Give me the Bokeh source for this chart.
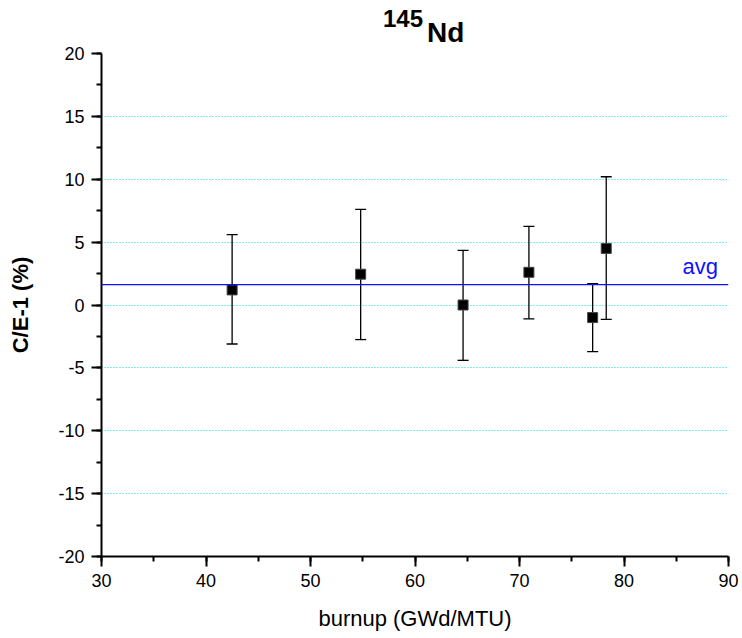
from bokeh.plotting import figure
from bokeh.models import (ColumnDataSource, Whisker, TeeHead, Span, Label,
                          SingleIntervalTicker, FixedTicker, Range1d, Div)
from bokeh.layouts import column
from bokeh.embed import file_html
from bokeh.resources import INLINE

# ---- data ----
burnup = [42.5, 54.8, 64.6, 70.9, 77.0, 78.3]
ce_minus_1 = [1.2, 2.45, 0.0, 2.6, -1.0, 4.5]
err_upper = [5.6, 7.6, 4.35, 6.25, 1.7, 10.2]
err_lower = [-3.1, -2.75, -4.4, -1.1, -3.7, -1.15]
avg_value = 1.62

x_label = "burnup (GWd/MTU)"
y_label = "C/E-1 (%)"
title_sup = "145"
title_main = "Nd"
y_ticks = [-20, -15, -10, -5, 0, 5, 10, 15, 20]

FONT = "Liberation Sans"

src = ColumnDataSource(dict(x=burnup, y=ce_minus_1, upper=err_upper, lower=err_lower))

title_html = (
    '<div style="position:relative;width:742px;height:45px;'
    'font-family:\'Liberation Sans\',Arial,sans-serif;font-weight:bold;color:black;">'
    '<span style="position:absolute;left:383px;top:7px;font-size:24px;line-height:24px;">'
    + title_sup + '</span>'
    '<span style="position:absolute;left:427px;top:19px;font-size:28px;line-height:28px;">'
    + title_main + '</span></div>'
)
title_div = Div(text=title_html, width=742, height=45, margin=(0, 0, 0, 0))

p = figure(width=742, height=593, output_backend="svg", toolbar_location=None,
           x_range=Range1d(30, 90), y_range=Range1d(-20, 20),
           min_border_left=101, min_border_right=14, min_border_top=8, min_border_bottom=82)
p.outline_line_color = None
p.background_fill_color = "white"
p.border_fill_color = "white"

# grid
p.xgrid.grid_line_color = None
p.ygrid.ticker = FixedTicker(ticks=[-15, -10, -5, 0, 5, 10, 15])
p.ygrid.grid_line_color = "#00dcdc"
p.ygrid.grid_line_dash = "1 2"
p.ygrid.grid_line_width = 1

# axes
p.xaxis.ticker = SingleIntervalTicker(interval=10, num_minor_ticks=2)
p.yaxis.ticker = SingleIntervalTicker(interval=5, num_minor_ticks=2)
p.yaxis.major_label_overrides = {v: str(v) for v in y_ticks}
for ax in (p.xaxis[0], p.yaxis[0]):
    ax.axis_line_width = 2
    ax.axis_line_color = "black"
    ax.major_tick_line_width = 2
    ax.minor_tick_line_width = 2
    ax.major_tick_in = 0
    ax.major_tick_out = 10
    ax.minor_tick_in = 0
    ax.minor_tick_out = 5
    ax.major_label_text_font = FONT
    ax.major_label_text_font_size = "18px"
    ax.major_label_text_color = "black"
    ax.major_label_standoff = 7
    ax.axis_label_text_font = FONT
    ax.axis_label_text_font_size = "22px"
    ax.axis_label_text_color = "black"
p.xaxis.axis_label = x_label
p.xaxis.axis_label_text_font_style = "normal"
p.xaxis.axis_label_standoff = 16
p.yaxis.axis_label = y_label
p.yaxis.axis_label_text_font_style = "bold"
p.yaxis.axis_label_standoff = 22

# average line
p.add_layout(Span(location=avg_value, dimension="width", line_color="#1010ff", line_width=1.4))
p.add_layout(Label(x=85.6, y=3.05, text="avg", text_font=FONT, text_font_size="22px",
                   text_color="#1010ff", text_baseline="alphabetic"))

# error bars
whisk = Whisker(source=src, base="x", upper="upper", lower="lower",
                line_color="black", line_width=1.3,
                upper_head=TeeHead(size=11, line_color="black", line_width=1.3),
                lower_head=TeeHead(size=11, line_color="black", line_width=1.3))
p.add_layout(whisk)

# markers
p.scatter("x", "y", source=src, marker="square", size=10,
          fill_color="black", line_color="#444444", line_width=1)

layout = column(title_div, p, spacing=0)
open("out.html", "w").write(file_html(layout, INLINE))
